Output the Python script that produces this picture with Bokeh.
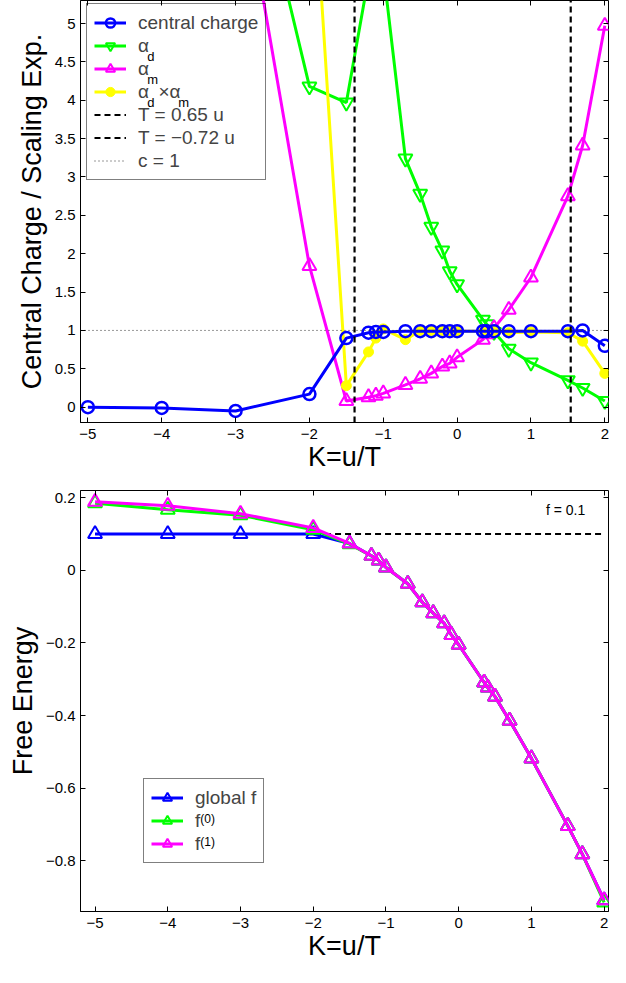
from bokeh.plotting import figure
from bokeh.models import Range1d, FixedTicker, LinearAxis, Legend, LegendItem, Label
from bokeh.layouts import column
from bokeh.embed import file_html
from bokeh.resources import INLINE

# ---------------- data ----------------
K = [-5, -4, -3, -2, -1.5, -1.2, -1.1, -1.0, -0.7, -0.5, -0.35, -0.2, -0.1, 0.0,
     0.35, 0.4, 0.5, 0.7, 1.0, 1.5, 1.7, 2.0]
central_charge = [0.0, -0.01, -0.05, 0.17, 0.90, 0.97, 0.98, 0.98, 0.99, 0.99, 0.99, 0.99, 0.99, 0.99,
                  0.99, 0.99, 0.99, 0.99, 0.99, 0.99, 1.0, 0.80]
alpha_d = [9.5, 8.9, 8.2, 4.18, 3.97, 5.6, 6.2, 5.7, 3.24, 2.78, 2.35, 2.04, 1.77, 1.60,
           1.14, 1.08, 0.98, 0.76, 0.58, 0.35, 0.25, 0.08]
alpha_m = [9.0, 8.2, 7.4, 1.84, 0.08, 0.13, 0.15, 0.18, 0.29, 0.37, 0.44, 0.53, 0.57, 0.65,
           0.88, 0.95, 1.03, 1.27, 1.69, 2.75, 3.41, 4.97]
alpha_dm = [85.0, 73.0, 61.0, 7.8, 0.28, 0.72, 0.90, 1.02, 0.88, 1.0, 1.0, 1.0, 0.99, 0.99,
            0.99, 0.99, 0.99, 0.97, 0.98, 0.97, 0.86, 0.44]
T_values = [0.65, -0.72]
c_ref = 1.0

f_global = [0.1, 0.1, 0.1, 0.1, 0.074, 0.040, 0.027, 0.008, -0.037, -0.088, -0.118, -0.146, -0.178, -0.205,
            -0.309, -0.323, -0.348, -0.414, -0.518, -0.704, -0.782, -0.909]
f0 = [0.185, 0.167, 0.152, 0.112, 0.072, 0.040, 0.027, 0.008, -0.037, -0.088, -0.118, -0.146, -0.178, -0.205,
      -0.309, -0.323, -0.348, -0.414, -0.518, -0.704, -0.782, -0.915]
f1 = [0.189, 0.178, 0.156, 0.117, 0.074, 0.040, 0.027, 0.008, -0.037, -0.088, -0.118, -0.146, -0.178, -0.205,
      -0.309, -0.323, -0.348, -0.414, -0.518, -0.704, -0.782, -0.909]
f_fixed = 0.1

x_ticks = [-5, -4, -3, -2, -1, 0, 1, 2]
x_tick_labels = ["\u22125", "\u22124", "\u22123", "\u22122", "\u22121", "0", "1", "2"]
top_y_ticks = [0, 0.5, 1, 1.5, 2, 2.5, 3, 3.5, 4, 4.5, 5]
top_y_tick_labels = ["0", "0.5", "1", "1.5", "2", "2.5", "3", "3.5", "4", "4.5", "5"]
bot_y_ticks = [-0.8, -0.6, -0.4, -0.2, 0, 0.2]
bot_y_tick_labels = ["\u22120.8", "\u22120.6", "\u22120.4", "\u22120.2", "0", "0.2"]

# ---------------- styling ----------------
FONT = "Liberation Sans"
BLUE, GREEN, MAGENTA, YELLOW = "#0000ff", "#00ff00", "#ff00ff", "#ffff00"
W = 610
H1, H2 = 478, 489
TOP1, BOT1, LEFT1 = 0, 56, 70
TOP2, BOT2, LEFT2 = 12, 56, 80
RIGHT = 2
FW1, FH1 = W - LEFT1 - RIGHT, H1 - TOP1 - BOT1
FW2, FH2 = W - LEFT2 - RIGHT, H2 - TOP2 - BOT2
LEG_FS = "19px"


def key(t):
    return int(t) if float(t).is_integer() else t


def style(p, yt, yl):
    p.outline_line_color = "black"
    p.outline_line_width = 1
    p.grid.visible = False
    p.background_fill_color = "white"
    p.border_fill_color = "white"
    for ax, ticks, labels in ((p.xaxis[0], x_ticks, x_tick_labels), (p.yaxis[0], yt, yl)):
        ax.ticker = FixedTicker(ticks=ticks)
        ax.major_label_overrides = {key(t): s for t, s in zip(ticks, labels)}
        ax.major_tick_in = 5
        ax.major_tick_out = 0
        ax.minor_tick_line_color = None
        ax.axis_line_color = "black"
        ax.major_tick_line_color = "black"
        ax.major_label_text_font = FONT
        ax.major_label_text_font_size = "15px"
        ax.major_label_text_color = "black"
        ax.axis_label_text_font = FONT
        ax.axis_label_text_font_size = "27px"
        ax.axis_label_text_font_style = "normal"
        ax.axis_label_text_color = "black"
    p.xaxis[0].major_label_standoff = 6
    p.xaxis[0].axis_label_standoff = 0
    p.yaxis[0].major_label_standoff = 5
    p.yaxis[0].axis_label_standoff = 5
    # box-style inward ticks on the top and right edges (no labels)
    for loc, ticks in (("right", yt), ("above", x_ticks)):
        ax = LinearAxis(ticker=FixedTicker(ticks=ticks), major_label_text_font_size="1px",
                        major_label_text_color=None, major_label_standoff=0,
                        major_tick_in=5, major_tick_out=0,
                        minor_tick_line_color=None, axis_line_color=None,
                        major_tick_line_color="black")
        p.add_layout(ax, loc)


def frame_label(p, FW, FH, sx, sy, text, size="13px"):
    """Annotation text placed at a pixel offset from the frame's bottom-left corner."""
    xr, yr = p.x_range, p.y_range
    x = xr.start + sx * (xr.end - xr.start) / FW
    y = yr.start + sy * (yr.end - yr.start) / FH
    p.add_layout(Label(x=x, y=y, text=text, text_font=FONT, text_font_size=size,
                       text_color="black", text_baseline="alphabetic", text_align="left"))


def make_legend(items, lx, ly):
    return Legend(items=items, location=(lx, ly), padding=P, spacing=0,
                  glyph_width=GW, glyph_height=GH, label_height=GH, label_standoff=STAND,
                  label_text_font=FONT, label_text_font_size=LEG_FS,
                  border_line_color="black", border_line_width=1,
                  background_fill_color="white", background_fill_alpha=0.0)


P, GW, GH, STAND = 7, 32, 23, 12

# ---------------- top plot ----------------
p1 = figure(width=W, height=H1, output_backend="svg", toolbar_location=None,
            x_range=Range1d(-5.1, 2.05), y_range=Range1d(-0.2, 5.3),
            min_border_left=LEFT1, min_border_right=RIGHT, min_border_top=TOP1,
            min_border_bottom=BOT1, x_axis_label="K=u/T",
            y_axis_label="Central Charge / Scaling Exp.")
style(p1, top_y_ticks, top_y_tick_labels)

lg = p1.line(K, alpha_d, line_color=GREEN, line_width=3)
sg = p1.scatter(K, alpha_d, marker="inverted_triangle", size=14, fill_color=None,
                line_color=GREEN, line_width=2)
lm = p1.line(K, alpha_m, line_color=MAGENTA, line_width=3)
sm = p1.scatter(K, alpha_m, marker="triangle", size=14, fill_color=None,
                line_color=MAGENTA, line_width=2)
ly = p1.line(K, alpha_dm, line_color=YELLOW, line_width=3)
sy = p1.scatter(K, alpha_dm, marker="circle", size=10, fill_color=YELLOW,
                line_color=YELLOW, line_width=1)
lb = p1.line(K, central_charge, line_color=BLUE, line_width=3)
sb = p1.scatter(K, central_charge, marker="circle", size=12, fill_color=None,
                line_color=BLUE, line_width=2.5)

y_lo, y_hi = p1.y_range.start, p1.y_range.end
x_lo, x_hi = p1.x_range.start, p1.x_range.end
t_lines = []
for T in T_values:
    Kc = 1.0 / T
    t_lines.append(p1.line([Kc, Kc], [y_lo, y_hi], line_color="black", line_width=2.2,
                           line_dash="6 4"))
lc = p1.line([x_lo, x_hi], [c_ref, c_ref], line_color="#333333", line_width=1,
             line_dash="1 3")

items1 = [
    LegendItem(label="central charge", renderers=[lb, sb]),
    LegendItem(label="\u03b1", renderers=[lg, sg]),
    LegendItem(label="\u03b1", renderers=[lm, sm]),
    LegendItem(label="\u03b1\u2002\u00d7\u03b1", renderers=[ly, sy]),
    LegendItem(label="T = %g u" % T_values[0], renderers=[t_lines[0]]),
    LegendItem(label="T = \u2212%g u" % abs(T_values[1]), renderers=[t_lines[1]]),
    LegendItem(label="c = %g" % c_ref, renderers=[lc]),
]
LH1 = 2 * P + len(items1) * GH
lx1 = 6
ly1 = FH1 - 5 - LH1
p1.add_layout(make_legend(items1, lx1, ly1))

tx1 = lx1 + P + GW + STAND
def cy1(i):
    return ly1 + LH1 - P - GH / 2 - i * GH
A = 11.0      # alpha width at 19px
SPC = 9.5     # en space
TIMES = 11.1  # multiplication sign
frame_label(p1, FW1, FH1, tx1 + A, cy1(1) - 9, "d")
frame_label(p1, FW1, FH1, tx1 + A, cy1(2) - 9, "m")
frame_label(p1, FW1, FH1, tx1 + A, cy1(3) - 9, "d")
frame_label(p1, FW1, FH1, tx1 + A + SPC + TIMES + A, cy1(3) - 9, "m")

# ---------------- bottom plot ----------------
p2 = figure(width=W, height=H2, output_backend="svg", toolbar_location=None,
            x_range=Range1d(-5.2, 2.06), y_range=Range1d(-0.94, 0.22),
            min_border_left=LEFT2, min_border_right=RIGHT, min_border_top=TOP2,
            min_border_bottom=BOT2, x_axis_label="K=u/T", y_axis_label="Free Energy")
style(p2, bot_y_ticks, bot_y_tick_labels)

p2.line([K[0], K[-1]], [f_fixed, f_fixed], line_color="black", line_width=2, line_dash="6 4")
l_g = p2.line(K, f_global, line_color=BLUE, line_width=3)
s_g = p2.scatter(K, f_global, marker="triangle", size=14, fill_color=None,
                 line_color=BLUE, line_width=2)
l_0 = p2.line(K, f0, line_color=GREEN, line_width=3)
s_0 = p2.scatter(K, f0, marker="triangle", size=14, fill_color=None,
                 line_color=GREEN, line_width=2)
l_1 = p2.line(K, f1, line_color=MAGENTA, line_width=3)
s_1 = p2.scatter(K, f1, marker="triangle", size=14, fill_color=None,
                 line_color=MAGENTA, line_width=2)
p2.add_layout(Label(x=1.2, y=0.166, text="f = %g" % f_fixed, text_font=FONT,
                    text_font_size="14px", text_color="black", text_baseline="middle"))

items2 = [
    LegendItem(label="global f", renderers=[l_g, s_g]),
    LegendItem(label="f", renderers=[l_0, s_0]),
    LegendItem(label="f", renderers=[l_1, s_1]),
]
LH2 = 2 * P + len(items2) * GH
lx2, ly2 = 63, 48
p2.add_layout(make_legend(items2, lx2, ly2))
tx2 = lx2 + P + GW + STAND
def cy2(i):
    return ly2 + LH2 - P - GH / 2 - i * GH
FW_F = 5.8  # width of "f" at 19px
frame_label(p2, FW2, FH2, tx2 + FW_F, cy2(1) + 3, "(0)", "12px")
frame_label(p2, FW2, FH2, tx2 + FW_F, cy2(2) + 3, "(1)", "12px")

layout = column(p1, p2, spacing=0)
open("out.html", "w").write(file_html(layout, INLINE))
